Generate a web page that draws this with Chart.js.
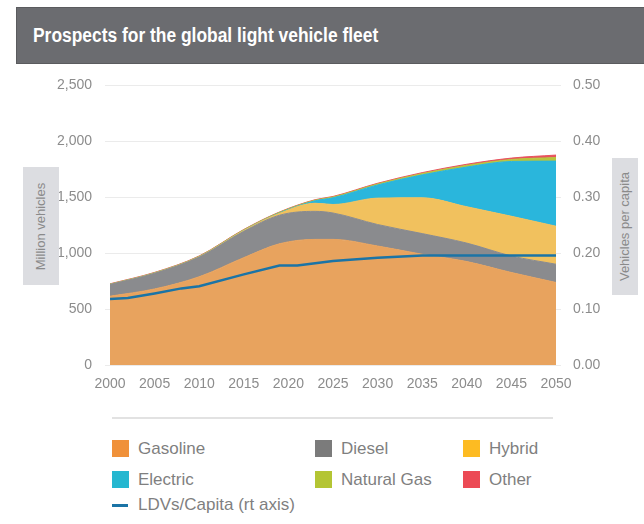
<!DOCTYPE html>
<html>
<head>
<meta charset="utf-8">
<script src="https://cdn.jsdelivr.net/npm/chart.js@4"></script>
<style>
  html, body { margin: 0; padding: 0; background: #fff; }
  body { width: 644px; height: 524px; position: relative; overflow: hidden; font-family: "Liberation Sans", Arial, sans-serif; }
  #title {
    position: absolute; left: 16px; top: 7px; width: 640px; height: 57px;
    background: #6b6c70; border: 1px solid #5a5b5e; box-sizing: border-box;
    color: #fff; font-weight: bold; font-size: 20px; line-height: 55px;
    padding-left: 16px;
  }
  #title span { display: inline-block; transform: scaleX(0.87); transform-origin: left center; white-space: nowrap; }
  #wrap { position: absolute; left: 0; top: 64px; width: 644px; height: 336px; }
  .axbox {
    position: absolute; background: #dcdde1; color: #8a8a8a; font-size: 13px;
    display: flex; align-items: center; justify-content: center;
  }
  .axbox span { transform: rotate(-90deg); white-space: nowrap; }
  #rule { position: absolute; left: 112px; top: 417px; width: 441px; height: 2px; background: #e2e2e2; }
  .lg { position: absolute; color: #7f7f7f; font-size: 17px; height: 20px; line-height: 20px; white-space: nowrap; }
  .lg i { position: absolute; left: 0; top: 1px; width: 17px; height: 17px; }
  .lg i.ln { top: 9px; height: 3px; width: 16px; }
  .lg b { font-weight: normal; position: absolute; left: 26px; top: 0; }
</style>
</head>
<body>
<div id="title"><span>Prospects for the global light vehicle fleet</span></div>
<div id="wrap"><canvas id="fleet"></canvas></div>
<div class="axbox" style="left:23px;top:167px;width:36px;height:118px"><span>Million vehicles</span></div>
<div class="axbox" style="left:612px;top:158px;width:26px;height:137px"><span>Vehicles per capita</span></div>
<div id="rule"></div>
<div id="legend"></div>
<script>
// million vehicles by powertrain
var years = [2000, 2005, 2010, 2015, 2019, 2023, 2025, 2030, 2035, 2040, 2045, 2050];
var gasoline = [615, 680, 789, 960, 1084, 1123, 1123, 1064, 990, 925, 827, 738];
var diesel = [105, 140, 176, 235, 255, 251, 236, 192, 185, 165, 148, 163];
var hybrid = [0, 2, 3, 8, 17, 72, 76, 236, 320, 325, 355, 340];
var electric = [0, 0, 0, 1, 4, 22, 60, 118, 205, 355, 490, 582];
var naturalGas = [3, 3, 4, 5, 5, 6, 7, 9, 12, 15, 18, 32];
var other = [3, 3, 3, 3, 3, 4, 5, 6, 8, 10, 12, 22];

// vehicles per capita, right axis
var ldvYears = [2000, 2002, 2005, 2008, 2010, 2015, 2019, 2021, 2025, 2030, 2035, 2050];
var ldvPerCapita = [0.118, 0.120, 0.128, 0.137, 0.141, 0.162, 0.178, 0.178, 0.186, 0.192, 0.196, 0.196];

var leftTicks = [0, 500, 1000, 1500, 2000, 2500];
var rightTicks = [0, 0.1, 0.2, 0.3, 0.4, 0.5];

var series = [
    { label: 'Gasoline', data: gasoline, color: '#e8a35e', key: '#f0913a' },
    { label: 'Diesel', data: diesel, color: '#8a8b8e', key: '#7b7b7b' },
    { label: 'Hybrid', data: hybrid, color: '#f1c15e', key: '#fdbb22' },
    { label: 'Electric', data: electric, color: '#2ab6dc', key: '#25b7d0' },
    { label: 'Natural Gas', data: naturalGas, color: '#b8c43e', key: '#b4c534' },
    { label: 'Other', data: other, color: '#e8535e', key: '#ec4a55' }
];
var lineColor = '#1b74a6';
var grey = '#8c8c8c';

var datasets = series.map(function(s, i) {
    return {
        label: s.label,
        data: s.data,
        yAxisID: 'y',
        backgroundColor: s.color,
        borderColor: s.color,
        borderWidth: 1,
        fill: i === 0 ? 'origin' : '-1',
        pointRadius: 0,
        cubicInterpolationMode: 'monotone'
    };
});
datasets.push({
    label: 'LDVs/Capita (rt axis)',
    data: ldvYears.map(function(y, i) { return { x: y, y: ldvPerCapita[i] }; }),
    yAxisID: 'y2',
    borderColor: lineColor,
    backgroundColor: lineColor,
    borderWidth: 2.5,
    fill: false,
    pointRadius: 0,
    tension: 0,
    order: -1
});

var chart = new Chart(document.getElementById('fleet').getContext('2d'), {
    type: 'line',
    data: { labels: years, datasets: datasets },
    options: {
        responsive: true,
        maintainAspectRatio: false,
        animation: false,
        layout: { padding: { top: 7, left: 0, right: 0, bottom: 0 } },
        plugins: { legend: { display: false }, tooltip: { enabled: false } },
        scales: {
            x: {
                type: 'linear', min: 2000, max: 2050,
                grid: { display: false, drawTicks: false },
                border: { display: false },
                ticks: {
                    stepSize: 5, padding: 11, color: grey,
                    font: { size: 14, family: 'Liberation Sans' },
                    maxRotation: 0,
                    callback: function(v) { return String(v); }
                },
                afterFit: function(s) { s.height = 35; }
            },
            y: {
                position: 'left', stacked: true, min: 0, max: 2500,
                grid: { color: '#ebebeb', tickLength: 5, tickColor: '#ebebeb' },
                border: { display: false },
                afterBuildTicks: function(s) { s.ticks = leftTicks.map(function(v) { return { value: v }; }); },
                ticks: {
                    padding: 13, color: grey,
                    font: { size: 14, family: 'Liberation Sans' },
                    callback: function(v) { return v.toLocaleString('en-US'); }
                },
                afterFit: function(s) { s.width = 110; }
            },
            y2: {
                position: 'right', min: 0, max: 0.5,
                grid: { drawOnChartArea: false, color: '#ebebeb', tickLength: 5, tickColor: '#ebebeb' },
                border: { display: false },
                afterBuildTicks: function(s) { s.ticks = rightTicks.map(function(v) { return { value: v }; }); },
                ticks: {
                    padding: 12, color: grey,
                    font: { size: 14, family: 'Liberation Sans' },
                    callback: function(v) { return v.toFixed(2); }
                },
                afterFit: function(s) { s.width = 88; }
            }
        }
    }
});

// html legend laid out in three columns like the original
var legend = document.getElementById('legend');
var cols = [112, 315, 463];
var rows = [439, 470];
series.forEach(function(s, i) {
    var el = document.createElement('div');
    el.className = 'lg';
    el.style.left = cols[i % 3] + 'px';
    el.style.top = rows[Math.floor(i / 3)] + 'px';
    el.innerHTML = '<i style="background:' + s.key + '"></i><b>' + s.label + '</b>';
    legend.appendChild(el);
});
var ln = document.createElement('div');
ln.className = 'lg';
ln.style.left = '112px';
ln.style.top = '495px';
ln.innerHTML = '<i class="ln" style="background:' + lineColor + '"></i><b>LDVs/Capita (rt axis)</b>';
legend.appendChild(ln);
</script>
</body>
</html>
